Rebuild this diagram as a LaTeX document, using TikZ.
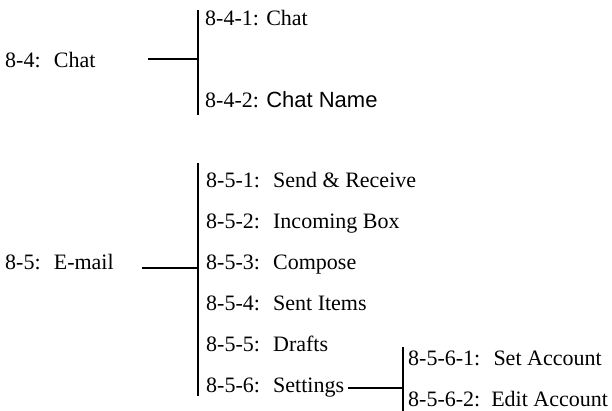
\documentclass[tikz,border=0pt]{standalone}
\usepackage{fontspec}
\setmainfont{Liberation Serif}
\newfontfamily\arialfont{Liberation Sans}
\begin{document}
\begin{tikzpicture}[x=1pt,y=-1pt,
    lbl/.style={anchor=base west, inner sep=0pt, font=\fontsize{22}{26}\selectfont},
    bar/.style={line width=1.5pt}]
  \useasboundingbox (0,0) rectangle (612,411);

  % Group 8-4
  \node[lbl] (chat) at (5,67.5) {8-4:\hspace{0.6em}Chat};
  \coordinate (chatStart) at (148,59);
  \coordinate (chatJoin) at (198,59);
  \coordinate (chatTop) at (198,10);
  \coordinate (chatBot) at (198,115);
  \draw[bar] (chatTop) -- (chatBot);
  \draw[bar] (chatStart) -- (chatJoin);

  \node[lbl] (chatA) at (205,25.5) {8-4-1: Chat};
  \node[lbl] (chatB) at (205,107.5) {8-4-2: {\arialfont Chat Name}};

  % Group 8-5
  \node[lbl] (mail) at (5,269.5) {8-5:\hspace{0.6em}E-mail};
  \coordinate (mailStart) at (142,268);
  \coordinate (mailJoin) at (198,268);
  \coordinate (mailTop) at (198,163);
  \coordinate (mailBot) at (198,396);
  \draw[bar] (mailTop) -- (mailBot);
  \draw[bar] (mailStart) -- (mailJoin);

  \node[lbl] (mailA) at (206,187.5) {8-5-1:\hspace{0.6em}Send \& Receive};
  \node[lbl] (mailB) at (206,228.5) {8-5-2:\hspace{0.6em}Incoming Box};
  \node[lbl] (mailC) at (206,269.5) {8-5-3:\hspace{0.6em}Compose};
  \node[lbl] (mailD) at (206,310.5) {8-5-4:\hspace{0.6em}Sent Items};
  \node[lbl] (mailE) at (206,351.5) {8-5-5:\hspace{0.6em}Drafts};
  \node[lbl] (mailF) at (206,392.5) {8-5-6:\hspace{0.6em}Settings};

  % Settings sub-menu
  \coordinate (setJoin) at (403,388);
  \coordinate (setTop) at (403,347);
  \coordinate (setBot) at (403,411);
  \draw[bar] (setTop) -- (setBot);
  \draw[bar] ([xshift=4pt]mailF.base east |- setJoin) -- (setJoin);

  \node[lbl] (setA) at (408,365) {8-5-6-1:\hspace{0.6em}Set Account};
  \node[lbl] (setB) at (408,406) {8-5-6-2:\hspace{0.5em}Edit Account};
\end{tikzpicture}
\end{document}
